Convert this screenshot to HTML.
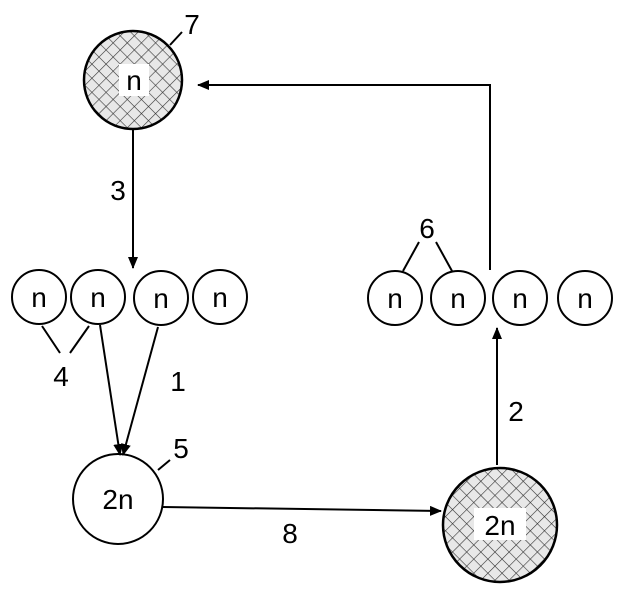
<!DOCTYPE html>
<html><head><style>body{margin:0;background:#fff}svg{display:block}</style></head><body>
<svg width="622" height="596" viewBox="0 0 622 596" xmlns="http://www.w3.org/2000/svg" font-family="Liberation Sans, DejaVu Sans, sans-serif">
<defs>
<pattern id="h" width="10" height="10" patternUnits="userSpaceOnUse" patternTransform="rotate(45)">
<rect width="10" height="10" fill="#e8e8e8"/>
<line x1="0" y1="0" x2="0" y2="10" stroke="#333" stroke-width="1.2"/>
<line x1="0" y1="0" x2="10" y2="0" stroke="#333" stroke-width="1.2"/>
</pattern>
<marker id="a" markerWidth="12" markerHeight="10" refX="11" refY="5" orient="auto" markerUnits="userSpaceOnUse">
<path d="M0,0 L12,5 L0,10 Z" fill="#000"/>
</marker>
</defs>
<g stroke="#000" stroke-width="2" fill="none">
<circle cx="133" cy="80" r="49" fill="url(#h)" stroke-width="2.5"/>
<circle cx="500" cy="525" r="57" fill="url(#h)" stroke-width="2.5"/>
<circle cx="118" cy="499" r="45" fill="#fff"/>
<circle cx="39" cy="297" r="27"/><circle cx="98" cy="297" r="27"/><circle cx="161" cy="298" r="27"/><circle cx="220" cy="297" r="27"/>
<circle cx="395" cy="298" r="27"/><circle cx="458" cy="298" r="27"/><circle cx="520" cy="298" r="27"/><circle cx="585" cy="298" r="27"/>
<line x1="133" y1="129" x2="133" y2="268" marker-end="url(#a)"/>
<line x1="100" y1="325" x2="120" y2="455" marker-end="url(#a)"/>
<line x1="158" y1="327" x2="123" y2="455" marker-end="url(#a)"/>
<line x1="42" y1="326" x2="60" y2="353"/><line x1="89" y1="326" x2="70" y2="353"/>
<line x1="158" y1="470" x2="170" y2="460"/>
<line x1="170" y1="45" x2="182" y2="32"/>
<line x1="163" y1="507" x2="441" y2="511" marker-end="url(#a)"/>
<line x1="497" y1="465" x2="497" y2="328" marker-end="url(#a)"/>
<polyline points="490,270 490,85 198,85" marker-end="url(#a)"/>
<line x1="419" y1="242" x2="403" y2="271"/><line x1="436" y1="242" x2="452" y2="271"/>
</g>
<rect x="119" y="64" width="30" height="32" fill="#fff"/>
<rect x="474" y="508" width="52" height="32" fill="#fff"/>
<g font-size="28" text-anchor="middle" fill="#000">
<text x="134" y="90">n</text>
<text x="118" y="509">2n</text>
<text x="500" y="535">2n</text>
<text x="39" y="307">n</text><text x="98" y="307">n</text><text x="161" y="308">n</text><text x="220" y="307">n</text>
<text x="395" y="308">n</text><text x="458" y="308">n</text><text x="520" y="308">n</text><text x="585" y="308">n</text>
<text x="192" y="34">7</text>
<text x="118" y="200">3</text>
<text x="61" y="386">4</text>
<text x="178" y="391">1</text>
<text x="181" y="458">5</text>
<text x="290" y="543">8</text>
<text x="516" y="421">2</text>
<text x="427" y="238">6</text>
</g>
</svg>
</body></html>
